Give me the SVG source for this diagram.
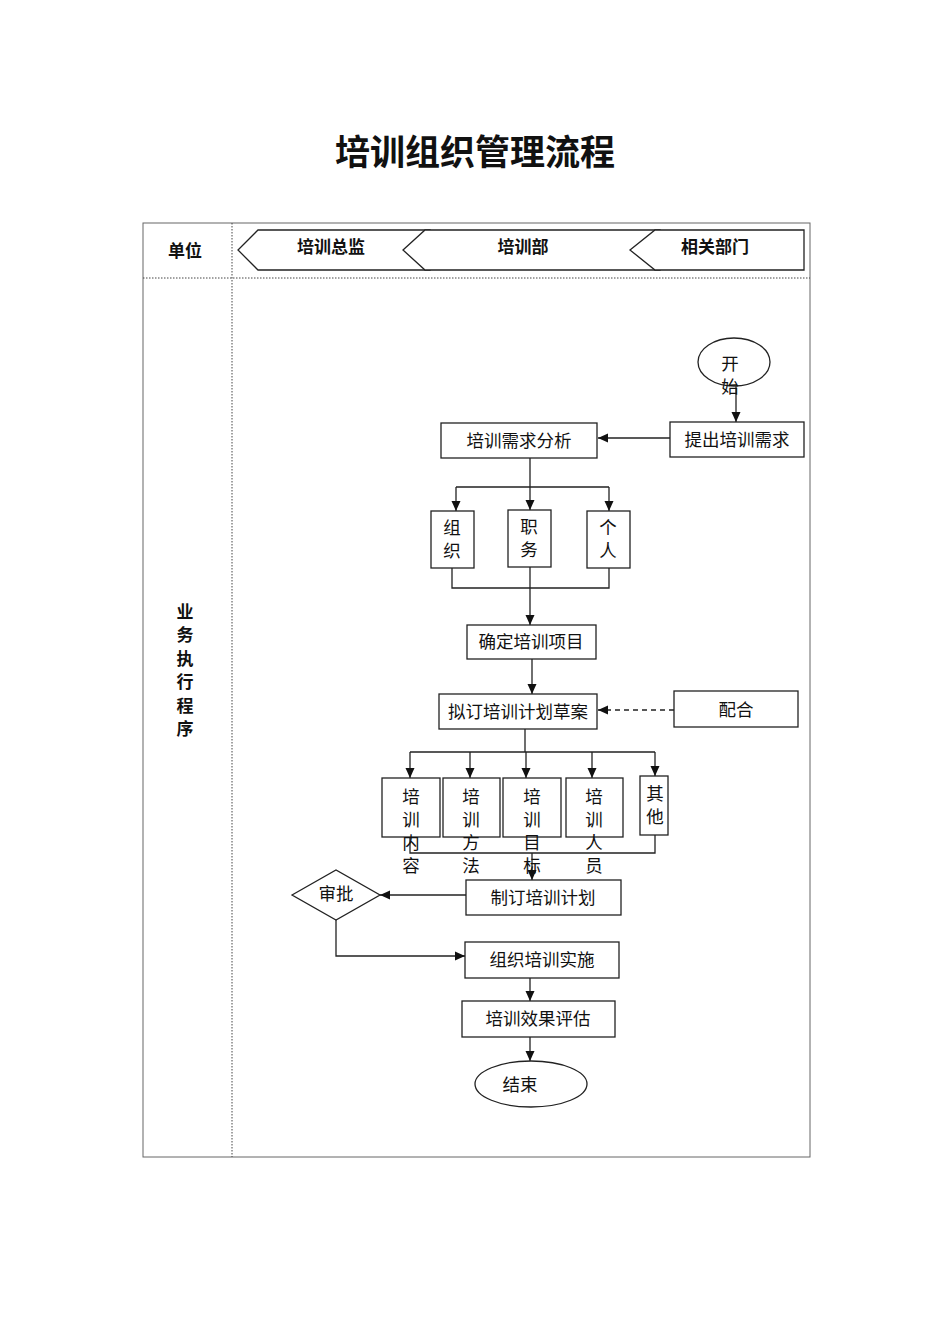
<svg xmlns="http://www.w3.org/2000/svg" width="950" height="1344" viewBox="0 0 950 1344">
<style>
text{font-family:"Liberation Sans","Noto Sans CJK SC",sans-serif;fill:#111;dominant-baseline:central;text-anchor:middle}
.t{font-size:17.5px}
.b{font-size:17px;font-weight:bold}
.box{fill:#fff;stroke:#222;stroke-width:1.3}
.ln{fill:none;stroke:#222;stroke-width:1.3}
.dash{fill:none;stroke:#222;stroke-width:1.3;stroke-dasharray:5,4}
.tb{fill:none;stroke:#666;stroke-width:1}
.dot{fill:none;stroke:#444;stroke-width:1;stroke-dasharray:1.5,1.5}
</style>
<defs>
<marker id="ar" viewBox="0 0 10 10" refX="10" refY="5" markerWidth="10" markerHeight="10" markerUnits="userSpaceOnUse" orient="auto"><path d="M0,0.5L10,5L0,9.5z" fill="#111"/></marker>
</defs>
<rect width="950" height="1344" fill="#fff"/>
<text x="475" y="152" style="font-size:35px;font-weight:bold">培训组织管理流程</text>
<g id="table">
<rect class="tb" x="143" y="223" width="667" height="934"/>
<line class="dot" x1="232" y1="223" x2="232" y2="1157"/>
<line class="dot" x1="143" y1="278" x2="810" y2="278"/>
<text class="b" x="185" y="251">单位</text>
<text class="b" x="185" y="612">业</text>
<text class="b" x="185" y="635.5">务</text>
<text class="b" x="185" y="659">执</text>
<text class="b" x="185" y="682.5">行</text>
<text class="b" x="185" y="706">程</text>
<text class="b" x="185" y="729.5">序</text>
</g>
<g id="lane1"><polygon class="box" points="258,230 430,230 430,270 258,270 238,250"/><text class="b" x="331" y="247">培训总监</text></g>
<g id="lane2"><polygon class="box" points="425,230 660,230 660,270 425,270 403,250"/><text class="b" x="523" y="247">培训部</text></g>
<g id="lane3"><polygon class="box" points="655,230 804,230 804,270 655,270 630,250"/><text class="b" x="715" y="247">相关部门</text></g>
<g id="connectors">
<line class="ln" x1="736" y1="375" x2="736" y2="422" marker-end="url(#ar)"/>
<line class="ln" x1="670" y1="438" x2="598" y2="438" marker-end="url(#ar)"/>
<path class="ln" d="M530,458V487M456,487H609"/>
<line class="ln" x1="456" y1="487" x2="456" y2="511" marker-end="url(#ar)"/>
<line class="ln" x1="530" y1="487" x2="530" y2="510" marker-end="url(#ar)"/>
<line class="ln" x1="609" y1="487" x2="609" y2="511" marker-end="url(#ar)"/>
<path class="ln" d="M452,568V588H609V568"/>
<line class="ln" x1="530" y1="567" x2="530" y2="625" marker-end="url(#ar)"/>
<line class="ln" x1="532" y1="659" x2="532" y2="694" marker-end="url(#ar)"/>
<line class="dash" x1="674" y1="710" x2="598" y2="710" marker-end="url(#ar)"/>
<path class="ln" d="M525,729V752M410,752H655"/>
<line class="ln" x1="410" y1="752" x2="410" y2="778" marker-end="url(#ar)"/>
<line class="ln" x1="470" y1="752" x2="470" y2="778" marker-end="url(#ar)"/>
<line class="ln" x1="526" y1="752" x2="526" y2="778" marker-end="url(#ar)"/>
<line class="ln" x1="592" y1="752" x2="592" y2="778" marker-end="url(#ar)"/>
<line class="ln" x1="655" y1="752" x2="655" y2="776" marker-end="url(#ar)"/>
<path class="ln" d="M410,837V853H655V835"/>
<line class="ln" x1="532" y1="853" x2="532" y2="880" marker-end="url(#ar)"/>
<line class="ln" x1="466" y1="895" x2="380" y2="895" marker-end="url(#ar)"/>
<path class="ln" d="M336,920V956H465" marker-end="url(#ar)"/>
<line class="ln" x1="530" y1="978" x2="530" y2="1001" marker-end="url(#ar)"/>
<line class="ln" x1="530" y1="1037" x2="530" y2="1061" marker-end="url(#ar)"/>
</g>
<g id="start"><ellipse class="box" cx="734" cy="362" rx="36" ry="24"/><text class="t" x="730" y="364">开</text><text class="t" x="730" y="387">始</text></g>
<g id="n_tichu"><rect class="box" x="670" y="422" width="134" height="35"/><text class="t" x="737" y="440">提出培训需求</text></g>
<g id="n_fenxi"><rect class="box" x="441" y="423" width="156" height="35"/><text class="t" x="519" y="441">培训需求分析</text></g>
<g id="n_zuzhi"><rect class="box" x="431" y="511" width="43" height="57"/><text class="t" x="452" y="528">组</text><text class="t" x="452" y="551">织</text></g>
<g id="n_zhiwu"><rect class="box" x="508" y="510" width="43" height="57"/><text class="t" x="529" y="527">职</text><text class="t" x="529" y="550">务</text></g>
<g id="n_geren"><rect class="box" x="587" y="511" width="43" height="57"/><text class="t" x="608" y="528">个</text><text class="t" x="608" y="551">人</text></g>
<g id="n_queding"><rect class="box" x="467" y="625" width="129" height="34"/><text class="t" x="531" y="642">确定培训项目</text></g>
<g id="n_niding"><rect class="box" x="439" y="694" width="158" height="35"/><text class="t" x="518" y="712">拟订培训计划草案</text></g>
<g id="n_peihe"><rect class="box" x="674" y="691" width="124" height="36"/><text class="t" x="736" y="710">配合</text></g>
<g id="n_neirong"><rect class="box" x="382" y="778" width="58" height="59"/><text class="t" x="411" y="797">培</text><text class="t" x="411" y="820">训</text><text class="t" x="411" y="843">内</text><text class="t" x="411" y="866">容</text></g>
<g id="n_fangfa"><rect class="box" x="443" y="778" width="57" height="59"/><text class="t" x="471" y="797">培</text><text class="t" x="471" y="820">训</text><text class="t" x="471" y="843">方</text><text class="t" x="471" y="866">法</text></g>
<g id="n_mubiao"><rect class="box" x="503" y="778" width="58" height="59"/><text class="t" x="532" y="797">培</text><text class="t" x="532" y="820">训</text><text class="t" x="532" y="843">目</text><text class="t" x="532" y="866">标</text></g>
<g id="n_renyuan"><rect class="box" x="566" y="778" width="57" height="59"/><text class="t" x="594" y="797">培</text><text class="t" x="594" y="820">训</text><text class="t" x="594" y="843">人</text><text class="t" x="594" y="866">员</text></g>
<g id="n_qita"><rect class="box" x="640" y="776" width="28" height="59"/><text class="t" x="655" y="794">其</text><text class="t" x="655" y="817">他</text></g>
<g id="n_zhiding"><rect class="box" x="466" y="880" width="155" height="35"/><text class="t" x="543" y="898">制订培训计划</text></g>
<g id="n_shenpi"><polygon class="box" points="292,895 336,870 380,895 336,920"/><text class="t" x="336" y="894">审批</text></g>
<g id="n_shishi"><rect class="box" x="465" y="942" width="154" height="36"/><text class="t" x="542" y="960">组织培训实施</text></g>
<g id="n_pinggu"><rect class="box" x="462" y="1001" width="153" height="36"/><text class="t" x="538" y="1019">培训效果评估</text></g>
<g id="end"><ellipse class="box" cx="531" cy="1084" rx="56" ry="23"/><text class="t" x="520" y="1085">结束</text></g>
</svg>
